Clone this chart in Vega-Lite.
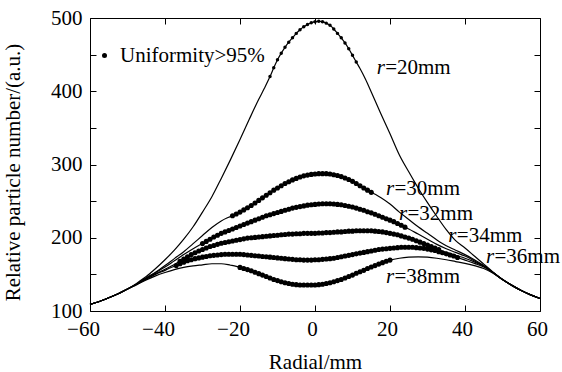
{
"$schema":"https://vega.github.io/schema/vega-lite/v6.json",
"autosize":{"type":"none"},
"padding":{"left":90,"top":18,"right":22,"bottom":61},
"width":450,"height":293,
"background":"white",
"datasets":{
"curves":[
{"c":"20","x":-60,"y":109},{"c":"20","x":-57.5,"y":113},{"c":"20","x":-55,"y":118},{"c":"20","x":-52.5,"y":123.5},{"c":"20","x":-50,"y":130},{"c":"20","x":-47.5,"y":138},{"c":"20","x":-45,"y":147},{"c":"20","x":-42.5,"y":158},{"c":"20","x":-40,"y":170},{"c":"20","x":-37.5,"y":183},{"c":"20","x":-35,"y":198},{"c":"20","x":-32.5,"y":215},{"c":"20","x":-30,"y":235},{"c":"20","x":-27.5,"y":256},{"c":"20","x":-25,"y":281},{"c":"20","x":-22.5,"y":307},{"c":"20","x":-20,"y":334},{"c":"20","x":-17.5,"y":362},{"c":"20","x":-15,"y":389},{"c":"20","x":-13.5,"y":404},
{"c":"20","x":-12,"y":420,"d":1},{"c":"20","x":-11,"y":432,"d":1},{"c":"20","x":-10,"y":443,"d":1},{"c":"20","x":-9,"y":452,"d":1},{"c":"20","x":-8,"y":460,"d":1},{"c":"20","x":-7,"y":467,"d":1},{"c":"20","x":-6,"y":473,"d":1},{"c":"20","x":-5,"y":479,"d":1},{"c":"20","x":-4,"y":484,"d":1},{"c":"20","x":-3,"y":488,"d":1},{"c":"20","x":-2,"y":491,"d":1},{"c":"20","x":-1,"y":493.5,"d":1},{"c":"20","x":0,"y":495,"d":1},{"c":"20","x":1,"y":495.5,"d":1},{"c":"20","x":2,"y":495,"d":1},{"c":"20","x":3,"y":493,"d":1},{"c":"20","x":4,"y":490,"d":1},{"c":"20","x":5,"y":485,"d":1},{"c":"20","x":6,"y":479,"d":1},{"c":"20","x":7,"y":473,"d":1},{"c":"20","x":8,"y":466,"d":1},{"c":"20","x":9,"y":458,"d":1},{"c":"20","x":10,"y":449,"d":1},{"c":"20","x":11,"y":440,"d":1},
{"c":"20","x":12,"y":431},{"c":"20","x":13.5,"y":416},{"c":"20","x":15,"y":399},{"c":"20","x":17.5,"y":370},{"c":"20","x":20,"y":342},{"c":"20","x":22.5,"y":313},{"c":"20","x":25,"y":290},{"c":"20","x":27.5,"y":268},{"c":"20","x":30,"y":248},{"c":"20","x":32.5,"y":229},{"c":"20","x":35,"y":211},{"c":"20","x":37.5,"y":196},{"c":"20","x":40,"y":186},{"c":"20","x":42.5,"y":175},{"c":"20","x":45,"y":164},{"c":"20","x":47.5,"y":153},{"c":"20","x":50,"y":143},{"c":"20","x":52.5,"y":135},{"c":"20","x":55,"y":128},{"c":"20","x":57.5,"y":122},{"c":"20","x":60,"y":117},

{"c":"30","x":-60,"y":109},{"c":"30","x":-57.5,"y":113},{"c":"30","x":-55,"y":118},{"c":"30","x":-52.5,"y":123.5},{"c":"30","x":-50,"y":130},{"c":"30","x":-47.5,"y":137},{"c":"30","x":-45,"y":145},{"c":"30","x":-42.5,"y":153},{"c":"30","x":-40,"y":162},{"c":"30","x":-37.5,"y":171.5},{"c":"30","x":-35,"y":181},{"c":"30","x":-32.5,"y":192},{"c":"30","x":-30,"y":203},{"c":"30","x":-27.5,"y":214},{"c":"30","x":-25,"y":223},{"c":"30","x":-23.5,"y":227},
{"c":"30","x":-22,"y":230,"d":1},{"c":"30","x":-21,"y":232.5,"d":1},{"c":"30","x":-20,"y":235,"d":1},{"c":"30","x":-19,"y":238,"d":1},{"c":"30","x":-18,"y":241,"d":1},{"c":"30","x":-17,"y":244,"d":1},{"c":"30","x":-16,"y":247.5,"d":1},{"c":"30","x":-15,"y":251,"d":1},{"c":"30","x":-14,"y":254.5,"d":1},{"c":"30","x":-13,"y":258,"d":1},{"c":"30","x":-12,"y":261.5,"d":1},{"c":"30","x":-11,"y":265,"d":1},{"c":"30","x":-10,"y":268,"d":1},{"c":"30","x":-9,"y":271,"d":1},{"c":"30","x":-8,"y":274,"d":1},{"c":"30","x":-7,"y":276.5,"d":1},{"c":"30","x":-6,"y":279,"d":1},{"c":"30","x":-5,"y":281,"d":1},{"c":"30","x":-4,"y":283,"d":1},{"c":"30","x":-3,"y":284.5,"d":1},{"c":"30","x":-2,"y":285.5,"d":1},{"c":"30","x":-1,"y":286.5,"d":1},{"c":"30","x":0,"y":287,"d":1},{"c":"30","x":1,"y":287.5,"d":1},{"c":"30","x":2,"y":287.5,"d":1},{"c":"30","x":3,"y":287.5,"d":1},{"c":"30","x":4,"y":287,"d":1},{"c":"30","x":5,"y":286,"d":1},{"c":"30","x":6,"y":285,"d":1},{"c":"30","x":7,"y":283.5,"d":1},{"c":"30","x":8,"y":281.5,"d":1},{"c":"30","x":9,"y":279.5,"d":1},{"c":"30","x":10,"y":277,"d":1},{"c":"30","x":11,"y":274,"d":1},{"c":"30","x":12,"y":271,"d":1},{"c":"30","x":13,"y":268,"d":1},{"c":"30","x":14,"y":265,"d":1},{"c":"30","x":15,"y":262,"d":1},
{"c":"30","x":16.5,"y":258},{"c":"30","x":17.5,"y":255},{"c":"30","x":20,"y":246},{"c":"30","x":22.5,"y":235},{"c":"30","x":25,"y":225},{"c":"30","x":27.5,"y":215},{"c":"30","x":30,"y":206},{"c":"30","x":32.5,"y":197},{"c":"30","x":35,"y":189},{"c":"30","x":37.5,"y":183},{"c":"30","x":40,"y":177},{"c":"30","x":42.5,"y":170},{"c":"30","x":45,"y":162},{"c":"30","x":47.5,"y":152.5},{"c":"30","x":50,"y":143},{"c":"30","x":52.5,"y":135},{"c":"30","x":55,"y":128},{"c":"30","x":57.5,"y":122},{"c":"30","x":60,"y":117},

{"c":"32","x":-60,"y":109},{"c":"32","x":-57.5,"y":113},{"c":"32","x":-55,"y":118},{"c":"32","x":-52.5,"y":123.5},{"c":"32","x":-50,"y":130},{"c":"32","x":-47.5,"y":137},{"c":"32","x":-45,"y":145},{"c":"32","x":-42.5,"y":152.5},{"c":"32","x":-40,"y":160},{"c":"32","x":-37.5,"y":168.5},{"c":"32","x":-35,"y":177},{"c":"32","x":-32.5,"y":185},{"c":"32","x":-31,"y":189.5},
{"c":"32","x":-30,"y":192,"d":1},{"c":"32","x":-29,"y":195,"d":1},{"c":"32","x":-28,"y":198,"d":1},{"c":"32","x":-27,"y":201,"d":1},{"c":"32","x":-26,"y":203.5,"d":1},{"c":"32","x":-25,"y":206,"d":1},{"c":"32","x":-24,"y":208,"d":1},{"c":"32","x":-23,"y":210,"d":1},{"c":"32","x":-22,"y":212,"d":1},{"c":"32","x":-21,"y":214,"d":1},{"c":"32","x":-20,"y":216,"d":1},{"c":"32","x":-19,"y":218,"d":1},{"c":"32","x":-18,"y":220,"d":1},{"c":"32","x":-17,"y":222,"d":1},{"c":"32","x":-16,"y":224,"d":1},{"c":"32","x":-15,"y":226,"d":1},{"c":"32","x":-14,"y":228,"d":1},{"c":"32","x":-13,"y":230,"d":1},{"c":"32","x":-12,"y":231.5,"d":1},{"c":"32","x":-11,"y":233,"d":1},{"c":"32","x":-10,"y":234.5,"d":1},{"c":"32","x":-9,"y":236,"d":1},{"c":"32","x":-8,"y":237.5,"d":1},{"c":"32","x":-7,"y":239,"d":1},{"c":"32","x":-6,"y":240.5,"d":1},{"c":"32","x":-5,"y":241.5,"d":1},{"c":"32","x":-4,"y":242.5,"d":1},{"c":"32","x":-3,"y":243.5,"d":1},{"c":"32","x":-2,"y":244.5,"d":1},{"c":"32","x":-1,"y":245,"d":1},{"c":"32","x":0,"y":245.5,"d":1},{"c":"32","x":1,"y":246,"d":1},{"c":"32","x":2,"y":246.5,"d":1},{"c":"32","x":3,"y":246.5,"d":1},{"c":"32","x":4,"y":246.5,"d":1},{"c":"32","x":5,"y":246,"d":1},{"c":"32","x":6,"y":245.5,"d":1},{"c":"32","x":7,"y":245,"d":1},{"c":"32","x":8,"y":244,"d":1},{"c":"32","x":9,"y":243,"d":1},{"c":"32","x":10,"y":242,"d":1},{"c":"32","x":11,"y":240.5,"d":1},{"c":"32","x":12,"y":239,"d":1},{"c":"32","x":13,"y":237.5,"d":1},{"c":"32","x":14,"y":235.5,"d":1},{"c":"32","x":15,"y":234,"d":1},{"c":"32","x":16,"y":232,"d":1},{"c":"32","x":17,"y":230,"d":1},{"c":"32","x":18,"y":228,"d":1},{"c":"32","x":19,"y":226,"d":1},{"c":"32","x":20,"y":224,"d":1},{"c":"32","x":21,"y":222,"d":1},{"c":"32","x":22,"y":219.5,"d":1},{"c":"32","x":23,"y":217,"d":1},{"c":"32","x":24,"y":214.5,"d":1},
{"c":"32","x":25,"y":212},{"c":"32","x":27.5,"y":205},{"c":"32","x":30,"y":198},{"c":"32","x":32.5,"y":191},{"c":"32","x":35,"y":185},{"c":"32","x":37.5,"y":180},{"c":"32","x":40,"y":175},{"c":"32","x":42.5,"y":168.5},{"c":"32","x":45,"y":161.5},{"c":"32","x":47.5,"y":152.5},{"c":"32","x":50,"y":143},{"c":"32","x":52.5,"y":135},{"c":"32","x":55,"y":128},{"c":"32","x":57.5,"y":122},{"c":"32","x":60,"y":117},

{"c":"34","x":-60,"y":109},{"c":"34","x":-57.5,"y":113},{"c":"34","x":-55,"y":118},{"c":"34","x":-52.5,"y":123.5},{"c":"34","x":-50,"y":130},{"c":"34","x":-47.5,"y":137},{"c":"34","x":-45,"y":144.5},{"c":"34","x":-42.5,"y":151},{"c":"34","x":-40,"y":157},{"c":"34","x":-37.5,"y":163.5},
{"c":"34","x":-36,"y":168,"d":1},{"c":"34","x":-35,"y":171,"d":1},{"c":"34","x":-34,"y":174,"d":1},{"c":"34","x":-33,"y":177,"d":1},{"c":"34","x":-32,"y":179.5,"d":1},{"c":"34","x":-31,"y":182,"d":1},{"c":"34","x":-30,"y":184,"d":1},{"c":"34","x":-29,"y":186,"d":1},{"c":"34","x":-28,"y":188,"d":1},{"c":"34","x":-27,"y":189.5,"d":1},{"c":"34","x":-26,"y":191,"d":1},{"c":"34","x":-25,"y":192.5,"d":1},{"c":"34","x":-24,"y":193.5,"d":1},{"c":"34","x":-23,"y":194.5,"d":1},{"c":"34","x":-22,"y":195.5,"d":1},{"c":"34","x":-21,"y":196.5,"d":1},{"c":"34","x":-20,"y":197.5,"d":1},{"c":"34","x":-19,"y":198.5,"d":1},{"c":"34","x":-18,"y":199.5,"d":1},{"c":"34","x":-17,"y":200,"d":1},{"c":"34","x":-16,"y":200.5,"d":1},{"c":"34","x":-15,"y":201,"d":1},{"c":"34","x":-14,"y":201.5,"d":1},{"c":"34","x":-13,"y":202,"d":1},{"c":"34","x":-12,"y":202.5,"d":1},{"c":"34","x":-11,"y":203,"d":1},{"c":"34","x":-10,"y":203.5,"d":1},{"c":"34","x":-9,"y":204,"d":1},{"c":"34","x":-8,"y":204.5,"d":1},{"c":"34","x":-7,"y":205,"d":1},{"c":"34","x":-6,"y":205,"d":1},{"c":"34","x":-5,"y":205.5,"d":1},{"c":"34","x":-4,"y":205.5,"d":1},{"c":"34","x":-3,"y":206,"d":1},{"c":"34","x":-2,"y":206,"d":1},{"c":"34","x":-1,"y":206,"d":1},{"c":"34","x":0,"y":206,"d":1},{"c":"34","x":1,"y":206.5,"d":1},{"c":"34","x":2,"y":206.5,"d":1},{"c":"34","x":3,"y":207,"d":1},{"c":"34","x":4,"y":207,"d":1},{"c":"34","x":5,"y":207.5,"d":1},{"c":"34","x":6,"y":208,"d":1},{"c":"34","x":7,"y":208,"d":1},{"c":"34","x":8,"y":208.5,"d":1},{"c":"34","x":9,"y":209,"d":1},{"c":"34","x":10,"y":209,"d":1},{"c":"34","x":11,"y":209.5,"d":1},{"c":"34","x":12,"y":209.5,"d":1},{"c":"34","x":13,"y":209.5,"d":1},{"c":"34","x":14,"y":209.5,"d":1},{"c":"34","x":15,"y":209.5,"d":1},{"c":"34","x":16,"y":209,"d":1},{"c":"34","x":17,"y":208.5,"d":1},{"c":"34","x":18,"y":208,"d":1},{"c":"34","x":19,"y":207,"d":1},{"c":"34","x":20,"y":206,"d":1},{"c":"34","x":21,"y":205,"d":1},{"c":"34","x":22,"y":204,"d":1},{"c":"34","x":23,"y":202.5,"d":1},{"c":"34","x":24,"y":201,"d":1},{"c":"34","x":25,"y":199.5,"d":1},{"c":"34","x":26,"y":198,"d":1},{"c":"34","x":27,"y":196,"d":1},{"c":"34","x":28,"y":194,"d":1},{"c":"34","x":29,"y":192,"d":1},{"c":"34","x":30,"y":190,"d":1},{"c":"34","x":31,"y":188,"d":1},{"c":"34","x":32,"y":186,"d":1},{"c":"34","x":33,"y":184,"d":1},
{"c":"34","x":35,"y":180},{"c":"34","x":37.5,"y":176},{"c":"34","x":40,"y":172},{"c":"34","x":42.5,"y":167},{"c":"34","x":45,"y":161},{"c":"34","x":47.5,"y":152.5},{"c":"34","x":50,"y":143},{"c":"34","x":52.5,"y":135},{"c":"34","x":55,"y":128},{"c":"34","x":57.5,"y":122},{"c":"34","x":60,"y":117},

{"c":"36","x":-60,"y":109},{"c":"36","x":-57.5,"y":113},{"c":"36","x":-55,"y":118},{"c":"36","x":-52.5,"y":123.5},{"c":"36","x":-50,"y":130},{"c":"36","x":-47.5,"y":136.5},{"c":"36","x":-45,"y":143.5},{"c":"36","x":-42.5,"y":150},{"c":"36","x":-40,"y":155.5},{"c":"36","x":-38.5,"y":159},
{"c":"36","x":-37,"y":162,"d":1},{"c":"36","x":-36,"y":164.5,"d":1},{"c":"36","x":-35,"y":166.5,"d":1},{"c":"36","x":-34,"y":168.5,"d":1},{"c":"36","x":-33,"y":170,"d":1},{"c":"36","x":-32,"y":171.5,"d":1},{"c":"36","x":-31,"y":172.5,"d":1},{"c":"36","x":-30,"y":173.5,"d":1},{"c":"36","x":-29,"y":174.5,"d":1},{"c":"36","x":-28,"y":175.5,"d":1},{"c":"36","x":-27,"y":176,"d":1},{"c":"36","x":-26,"y":176.5,"d":1},{"c":"36","x":-25,"y":177,"d":1},{"c":"36","x":-24,"y":177.5,"d":1},{"c":"36","x":-23,"y":177.5,"d":1},{"c":"36","x":-22,"y":177.5,"d":1},{"c":"36","x":-21,"y":177.5,"d":1},{"c":"36","x":-20,"y":177.5,"d":1},{"c":"36","x":-19,"y":177,"d":1},{"c":"36","x":-18,"y":176.5,"d":1},{"c":"36","x":-17,"y":176,"d":1},{"c":"36","x":-16,"y":175.5,"d":1},{"c":"36","x":-15,"y":175,"d":1},{"c":"36","x":-14,"y":174.5,"d":1},{"c":"36","x":-13,"y":174,"d":1},{"c":"36","x":-12,"y":173.5,"d":1},{"c":"36","x":-11,"y":173,"d":1},{"c":"36","x":-10,"y":172.5,"d":1},{"c":"36","x":-9,"y":172,"d":1},{"c":"36","x":-8,"y":171.5,"d":1},{"c":"36","x":-7,"y":171,"d":1},{"c":"36","x":-6,"y":170.5,"d":1},{"c":"36","x":-5,"y":170,"d":1},{"c":"36","x":-4,"y":170,"d":1},{"c":"36","x":-3,"y":169.5,"d":1},{"c":"36","x":-2,"y":169.5,"d":1},{"c":"36","x":-1,"y":169.5,"d":1},{"c":"36","x":0,"y":170,"d":1},{"c":"36","x":1,"y":170,"d":1},{"c":"36","x":2,"y":170.5,"d":1},{"c":"36","x":3,"y":171,"d":1},{"c":"36","x":4,"y":171.5,"d":1},{"c":"36","x":5,"y":172,"d":1},{"c":"36","x":6,"y":173,"d":1},{"c":"36","x":7,"y":174,"d":1},{"c":"36","x":8,"y":175,"d":1},{"c":"36","x":9,"y":176,"d":1},{"c":"36","x":10,"y":177,"d":1},{"c":"36","x":11,"y":178,"d":1},{"c":"36","x":12,"y":179,"d":1},{"c":"36","x":13,"y":180,"d":1},{"c":"36","x":14,"y":181,"d":1},{"c":"36","x":15,"y":182,"d":1},{"c":"36","x":16,"y":183,"d":1},{"c":"36","x":17,"y":184,"d":1},{"c":"36","x":18,"y":184.5,"d":1},{"c":"36","x":19,"y":185,"d":1},{"c":"36","x":20,"y":185.5,"d":1},{"c":"36","x":21,"y":186,"d":1},{"c":"36","x":22,"y":186.5,"d":1},{"c":"36","x":23,"y":187,"d":1},{"c":"36","x":24,"y":187,"d":1},{"c":"36","x":25,"y":187,"d":1},{"c":"36","x":26,"y":187,"d":1},{"c":"36","x":27,"y":186.5,"d":1},{"c":"36","x":28,"y":186,"d":1},{"c":"36","x":29,"y":185.5,"d":1},{"c":"36","x":30,"y":184.5,"d":1},{"c":"36","x":31,"y":183.5,"d":1},{"c":"36","x":32,"y":182.5,"d":1},{"c":"36","x":33,"y":181,"d":1},{"c":"36","x":34,"y":179.5,"d":1},{"c":"36","x":35,"y":178,"d":1},{"c":"36","x":36,"y":176.5,"d":1},{"c":"36","x":37,"y":175,"d":1},{"c":"36","x":38,"y":173,"d":1},
{"c":"36","x":40,"y":169.5},{"c":"36","x":42.5,"y":165},{"c":"36","x":45,"y":160},{"c":"36","x":47.5,"y":152},{"c":"36","x":50,"y":143},{"c":"36","x":52.5,"y":135},{"c":"36","x":55,"y":128},{"c":"36","x":57.5,"y":122},{"c":"36","x":60,"y":117},

{"c":"38","x":-60,"y":109},{"c":"38","x":-57.5,"y":113},{"c":"38","x":-55,"y":118},{"c":"38","x":-52.5,"y":123.5},{"c":"38","x":-50,"y":130},{"c":"38","x":-47.5,"y":136},{"c":"38","x":-45,"y":142.5},{"c":"38","x":-42.5,"y":148},{"c":"38","x":-40,"y":152.5},{"c":"38","x":-37.5,"y":156.5},{"c":"38","x":-35,"y":159.5},{"c":"38","x":-32.5,"y":161.5},{"c":"38","x":-30,"y":163},{"c":"38","x":-27.5,"y":164.5},{"c":"38","x":-25,"y":164.5},{"c":"38","x":-22.5,"y":162.5},{"c":"38","x":-21,"y":161},
{"c":"38","x":-20,"y":159.5,"d":1},{"c":"38","x":-19,"y":158,"d":1},{"c":"38","x":-18,"y":156.5,"d":1},{"c":"38","x":-17,"y":155,"d":1},{"c":"38","x":-16,"y":153,"d":1},{"c":"38","x":-15,"y":151,"d":1},{"c":"38","x":-14,"y":149,"d":1},{"c":"38","x":-13,"y":147,"d":1},{"c":"38","x":-12,"y":145,"d":1},{"c":"38","x":-11,"y":143,"d":1},{"c":"38","x":-10,"y":141.5,"d":1},{"c":"38","x":-9,"y":140,"d":1},{"c":"38","x":-8,"y":138.5,"d":1},{"c":"38","x":-7,"y":137.5,"d":1},{"c":"38","x":-6,"y":136.5,"d":1},{"c":"38","x":-5,"y":136,"d":1},{"c":"38","x":-4,"y":135.5,"d":1},{"c":"38","x":-3,"y":135.5,"d":1},{"c":"38","x":-2,"y":135.5,"d":1},{"c":"38","x":-1,"y":135.5,"d":1},{"c":"38","x":0,"y":135.5,"d":1},{"c":"38","x":1,"y":136,"d":1},{"c":"38","x":2,"y":136.5,"d":1},{"c":"38","x":3,"y":137.5,"d":1},{"c":"38","x":4,"y":138.5,"d":1},{"c":"38","x":5,"y":140,"d":1},{"c":"38","x":6,"y":141.5,"d":1},{"c":"38","x":7,"y":143,"d":1},{"c":"38","x":8,"y":145,"d":1},{"c":"38","x":9,"y":147,"d":1},{"c":"38","x":10,"y":149,"d":1},{"c":"38","x":11,"y":151.5,"d":1},{"c":"38","x":12,"y":153.5,"d":1},{"c":"38","x":13,"y":155.5,"d":1},{"c":"38","x":14,"y":158,"d":1},{"c":"38","x":15,"y":160,"d":1},{"c":"38","x":16,"y":162,"d":1},{"c":"38","x":17,"y":164,"d":1},{"c":"38","x":18,"y":166,"d":1},{"c":"38","x":19,"y":168,"d":1},{"c":"38","x":20,"y":169.5,"d":1},
{"c":"38","x":22.5,"y":172},{"c":"38","x":25,"y":173.5},{"c":"38","x":27.5,"y":174},{"c":"38","x":30,"y":173.5},{"c":"38","x":32.5,"y":172},{"c":"38","x":35,"y":170},{"c":"38","x":37.5,"y":167.5},{"c":"38","x":40,"y":165},{"c":"38","x":42.5,"y":162},{"c":"38","x":45,"y":158},{"c":"38","x":47.5,"y":151.5},{"c":"38","x":50,"y":143},{"c":"38","x":52.5,"y":135},{"c":"38","x":55,"y":128},{"c":"38","x":57.5,"y":122},{"c":"38","x":60,"y":117}
],
"labels":[
{"x":16.45,"y":423.4,"t":"=20mm"},
{"x":18.93,"y":257.8,"t":"=30mm"},
{"x":22.4,"y":224.2,"t":"=32mm"},
{"x":35.55,"y":193.9,"t":"=34mm"},
{"x":45.6,"y":165.7,"t":"=36mm"},
{"x":18.93,"y":137.7,"t":"=38mm"}
]
},
"layer":[
{
"data":{"name":"curves"},
"mark":{"type":"line","color":"black","strokeWidth":1.2,"interpolate":"monotone"},
"encoding":{
"x":{"field":"x","type":"quantitative","scale":{"domain":[-60,60],"nice":false,"zero":false},
"axis":{"orient":"bottom","values":[-60,-40,-20,0,20,40,60],"title":"Radial/mm","offset":-6,"labelPadding":7,"labelBaseline":"top","labelFlush":false,"labelOffset":{"condition":{"test":"datum.value < 0","value":-7},"value":-3},"titleY":63,"titleBaseline":"alphabetic","labelOverlap":false}},
"y":{"field":"y","type":"quantitative","scale":{"domain":[100,500],"nice":false,"zero":false},
"axis":{"orient":"left","values":[100,150,200,250,300,350,400,450,500],"labelExpr":"datum.value % 100 === 0 ? datum.label : ''","title":"Relative particle number/(a.u.)","offset":-6,"labelPadding":8,"labelFlush":false,"titleX":-77,"titleY":154,"titleBaseline":"alphabetic","titleAngle":-90,"labelOverlap":false}},
"detail":{"field":"c"}
}
},
{
"data":{"name":"curves"},
"transform":[{"filter":"datum.d == 1"}],
"mark":{"type":"point","filled":true,"opacity":1},
"encoding":{
"x":{"field":"x","type":"quantitative","axis":null},
"y":{"field":"y","type":"quantitative","axis":null},
"size":{"condition":{"test":"datum.c == '20'","value":12},"value":26},
"color":{"datum":"Uniformity>95%","type":"nominal","scale":{"range":["black"]},
"legend":{"title":null,"orient":"none","legendX":4,"legendY":27,"symbolType":"circle","symbolSize":25,"labelFont":"Liberation Serif","labelFontSize":21,"labelColor":"black","labelOffset":5,"padding":0}}
}
},
{
"data":{"name":"labels"},
"mark":{"type":"text","text":"r","font":"Liberation Serif","fontStyle":"italic","fontSize":21,"align":"left","baseline":"alphabetic","color":"black"},
"encoding":{
"x":{"field":"x","type":"quantitative","axis":null},
"y":{"field":"y","type":"quantitative","axis":null}
}
},
{
"data":{"name":"labels"},
"mark":{"type":"text","font":"Liberation Serif","fontSize":21,"align":"left","baseline":"alphabetic","color":"black","dx":8.5},
"encoding":{
"x":{"field":"x","type":"quantitative","axis":null},
"y":{"field":"y","type":"quantitative","axis":null},
"text":{"field":"t"}
}
},
{
"data":{"name":"labels"},
"mark":{"type":"point","opacity":0},
"encoding":{
"x":{"field":"x","type":"quantitative","axis":{"orient":"top","values":[-60,-40,-20,0,20,40,60],"labels":false,"title":null,"offset":-6}},
"y":{"field":"y","type":"quantitative","axis":{"orient":"right","values":[100,150,200,250,300,350,400,450,500],"labels":false,"title":null,"offset":-6}}
}
}
],
"resolve":{"axis":{"x":"independent","y":"independent"}},
"config":{
"font":"Liberation Serif",
"view":{"stroke":"black","strokeWidth":1},
"axis":{"grid":false,"domain":false,"tickColor":"black","tickWidth":1,"tickSize":6,"labelColor":"black","titleColor":"black","labelFont":"Liberation Serif","titleFont":"Liberation Serif","labelFontSize":21,"titleFontSize":21,"titleFontWeight":"normal"}
}
}
